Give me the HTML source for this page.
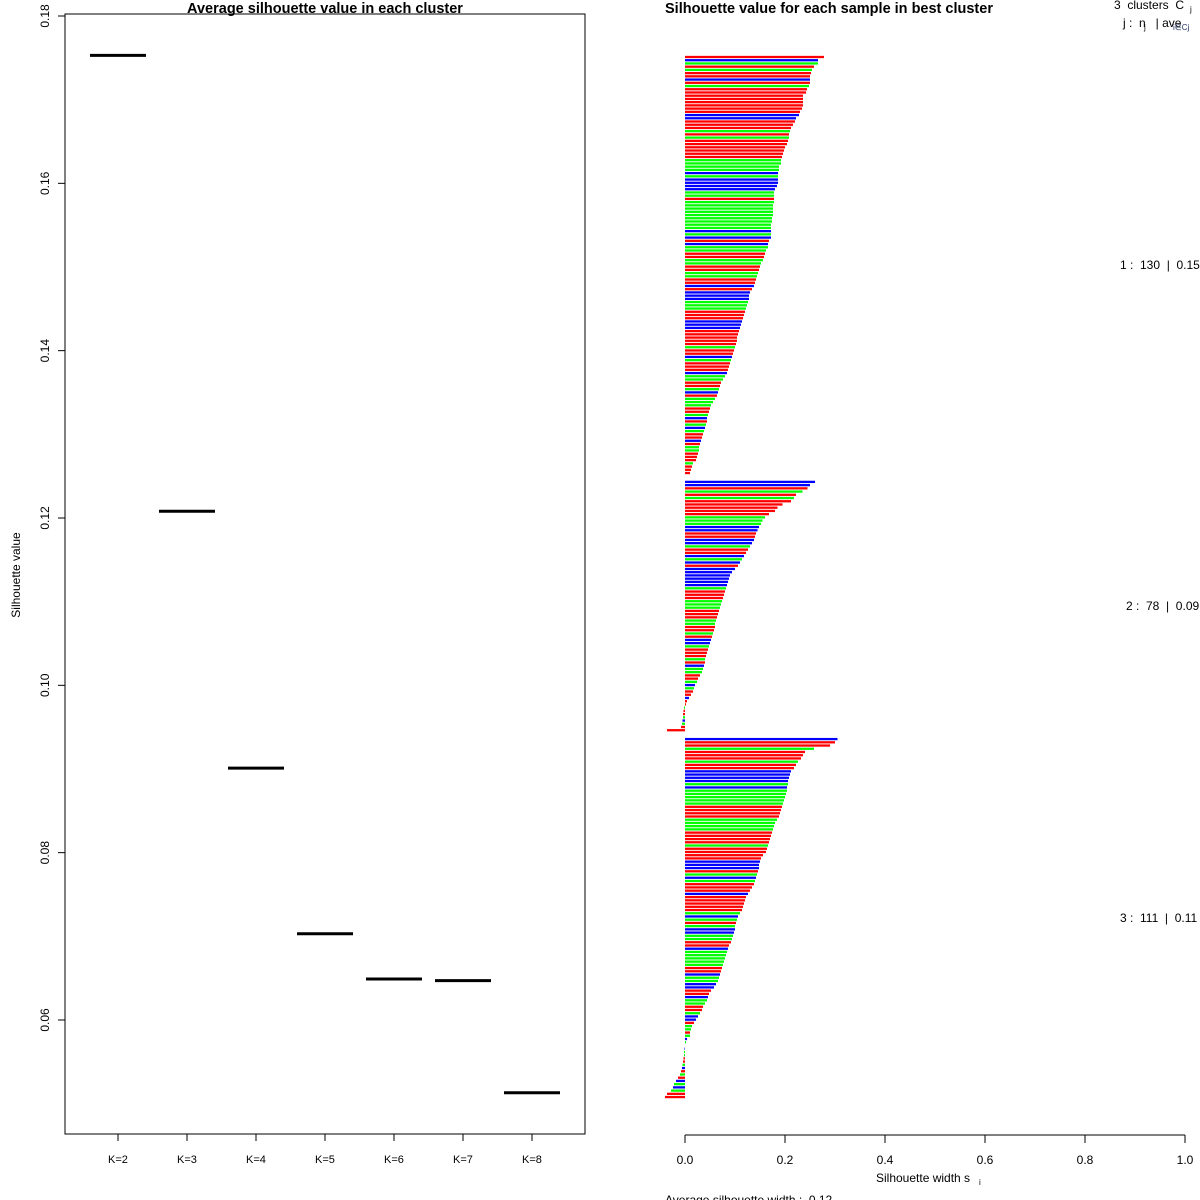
<!DOCTYPE html>
<html><head><meta charset="utf-8">
<style>
html,body{margin:0;padding:0;background:#fff;}
svg{display:block;font-family:"Liberation Sans",sans-serif;}
text{white-space:pre;}
</style></head>
<body>
<svg id="chart" width="1200" height="1200" viewBox="0 0 1200 1200" xmlns="http://www.w3.org/2000/svg">
<rect width="1200" height="1200" fill="#fff"/>
<g id="left"></g>
<g id="right"></g>
</svg>
<script>
// ---- Left chart data ----
const kCategories = ["K=2","K=3","K=4","K=5","K=6","K=7","K=8"];
const kAverages = [0.1753,0.1208,0.0901,0.0703,0.0649,0.0647,0.0513];
const leftYTicks = [0.06,0.08,0.10,0.12,0.14,0.16,0.18];
const leftYTickLabels = ["0.06","0.08","0.10","0.12","0.14","0.16","0.18"];

// ---- Right chart data ----
const clusterIds = [1,2,3];
const clusterSizes = [130,78,111];
const clusterAvgLabels = ["0.15","0.09","0.11"];
const cluster1Values = [0.278,0.266,0.266,0.258,0.254,0.252,0.250,0.250,0.250,0.248,
0.244,0.242,0.236,0.236,0.236,0.236,0.234,0.230,0.228,0.222,
0.220,0.216,0.212,0.210,0.208,0.208,0.206,0.204,0.200,0.198,
0.196,0.194,0.192,0.192,0.188,0.188,0.186,0.186,0.186,0.186,
0.184,0.180,0.178,0.178,0.178,0.178,0.176,0.176,0.176,0.176,
0.174,0.174,0.172,0.172,0.172,0.172,0.172,0.168,0.166,0.166,
0.162,0.160,0.158,0.156,0.152,0.150,0.148,0.146,0.144,0.142,
0.140,0.138,0.134,0.130,0.128,0.128,0.126,0.124,0.122,0.120,
0.118,0.116,0.114,0.112,0.110,0.108,0.106,0.104,0.104,0.102,
0.100,0.098,0.096,0.094,0.092,0.090,0.088,0.086,0.084,0.080,
0.076,0.072,0.070,0.068,0.066,0.064,0.060,0.056,0.052,0.050,
0.048,0.046,0.044,0.044,0.042,0.040,0.038,0.036,0.034,0.032,
0.030,0.028,0.028,0.026,0.024,0.022,0.016,0.014,0.012,0.010];
const cluster2Values = [0.260,0.250,0.245,0.235,0.222,0.218,0.212,0.195,0.185,0.180,
0.168,0.160,0.155,0.152,0.148,0.145,0.142,0.140,0.138,0.134,
0.130,0.126,0.122,0.118,0.114,0.110,0.106,0.100,0.094,0.090,
0.088,0.086,0.084,0.082,0.080,0.078,0.076,0.074,0.072,0.070,
0.068,0.066,0.064,0.062,0.060,0.060,0.058,0.056,0.054,0.052,
0.050,0.048,0.046,0.044,0.042,0.040,0.040,0.038,0.036,0.034,
0.030,0.026,0.024,0.020,0.018,0.016,0.012,0.008,0.004,0.002,
-0.002,-0.003,-0.004,-0.004,-0.005,-0.006,-0.008,-0.036];
const cluster3Values = [0.305,0.300,0.290,0.258,0.240,0.236,0.232,0.226,0.222,0.218,
0.212,0.210,0.208,0.206,0.206,0.204,0.204,0.202,0.200,0.198,
0.196,0.194,0.192,0.190,0.188,0.184,0.180,0.178,0.176,0.174,
0.172,0.170,0.168,0.166,0.164,0.162,0.156,0.152,0.150,0.148,
0.148,0.146,0.144,0.142,0.140,0.138,0.134,0.130,0.126,0.122,
0.120,0.118,0.116,0.114,0.110,0.106,0.104,0.102,0.100,0.100,
0.098,0.096,0.094,0.092,0.088,0.086,0.084,0.082,0.080,0.078,
0.076,0.074,0.072,0.070,0.068,0.066,0.062,0.058,0.052,0.048,
0.046,0.044,0.040,0.036,0.034,0.030,0.026,0.022,0.018,0.014,
0.012,0.010,0.010,0.004,0.002,0.000,-0.001,-0.002,-0.002,-0.003,-0.004,
-0.005,-0.006,-0.008,-0.010,-0.014,-0.018,-0.022,-0.024,-0.028,-0.036,-0.040];
const cluster1Colors = "rbgrgrrbrgrrrrrrrrbbrrrgrgrrrrrrggggbgbbbbggrgggggggggbgbrbggrrggrrggrrbrbbbgggrrrbbbrrrrrgrrbgrrrbggrrgbrgggrrgbrgbgrrbrggrrrgrr";
const cluster2Colors = "bbrgrgrrrrrgggbbrrbbgrrbgbrbbbbbbgrrrgggrrrggrrgrbbgrrrgrbggrrgbgrrbrrgrrgbgrr";
const cluster3Colors = "brrgrrrgrrbbbbgbgggggrrrrggggrrrrgrrrrbbbrgbgrrrbrrrrrgbgrgbbggrrbgggggrrbggbbrrbggrrgbbrggrgbgbbggrrgbrgrbgbgrr";
const xTicks = [0,0.2,0.4,0.6,0.8,1.0];
const xTickLabels = ["0.0","0.2","0.4","0.6","0.8","1.0"];

const NS = "http://www.w3.org/2000/svg";
function mk(parent, tag, attrs, text){
  const e = document.createElementNS(NS, tag);
  for (const k in attrs) e.setAttribute(k, attrs[k]);
  if (text !== undefined) e.textContent = text;
  parent.appendChild(e);
  return e;
}
const colorMap = {r:"#ff0000", g:"#00ff00", b:"#0000ff"};

// ---- Left panel ----
const L = document.getElementById("left");
const yL = v => 16 + (0.18 - v) / 0.02 * 167.33;
const xL = i => 118 + i * 69;
let el = mk(L, "rect", {x:65, y:14, width:520, height:1120, fill:"none", stroke:"#000", "stroke-width":1});


el = mk(L, "text", {x:325, y:13, "text-anchor":"middle", "font-size":14.5, "font-weight":"bold"}, "Average silhouette value in each cluster");


el = mk(L, "text", {x:0, y:0, transform:"translate(20,575) rotate(-90)", "text-anchor":"middle", "font-size":12}, "Silhouette value");


leftYTicks.forEach((t, i) => {
  const y = yL(t);
  let tk = mk(L, "line", {x1:58, x2:65, y1:y, y2:y, stroke:"#000"});
  
  
  let lb = mk(L, "text", {x:0, y:0, transform:`translate(49,${y}) rotate(-90)`, "text-anchor":"middle", "font-size":12}, leftYTickLabels[i]);
  
  
});
kCategories.forEach((c, i) => {
  const x = xL(i);
  let tk = mk(L, "line", {x1:x, x2:x, y1:1134, y2:1141, stroke:"#000"});
  
  
  let lb = mk(L, "text", {x:x, y:1163, "text-anchor":"middle", "font-size":11}, c);
  
  
  let seg = mk(L, "line", {x1:x-28, x2:x+28, y1:yL(kAverages[i]), y2:yL(kAverages[i]), stroke:"#000", "stroke-width":3});
  
  
});

// ---- Right panel ----
const R = document.getElementById("right");
const xR = v => 685 + v * 500;
const pitch = 3.225;
const yR = slot => 57 + slot * pitch;
el = mk(R, "text", {x:665, y:13, "font-size":14.5, "font-weight":"bold"}, "Silhouette value for each sample in best cluster");


el = mk(R, "text", {x:1114, y:9, "font-size":12}, "3  clusters  C");


mk(R, "text", {x:1190, y:12, "font-size":8}, "j");
el = mk(R, "text", {x:1123, y:27, "font-size":12}, "j :  n   | ave      s");


mk(R, "text", {x:1144, y:30, "font-size":8}, "j");
mk(R, "text", {x:1173, y:30, "font-size":8, fill:"#203060"}, "i∈Cj");

const allVals = [cluster1Values, cluster2Values, cluster3Values];
const allCols = [cluster1Colors, cluster2Colors, cluster3Colors];
const gapSlots = 1.75;
let slot = 0;
allVals.forEach((vals, ci) => {
  const start = slot;
  vals.forEach((v, i) => {
    const y = yR(slot);
    const col = colorMap[allCols[ci][i % allCols[ci].length]];
    const b = mk(R, "rect", {x:Math.min(xR(0), xR(v)), y:y-1.15, width:Math.abs(xR(v)-xR(0)), height:2.3, fill:col});
    
    
    slot += 1;
  });
  const mid = yR((start + slot - 1) / 2);
  const lb = mk(R, "text", {x:ci===1?1126:1120, y:mid+4, "font-size":12},
    clusterIds[ci] + " :  " + clusterSizes[ci] + "  |  " + clusterAvgLabels[ci]);
  
  
  slot += gapSlots;
});

el = mk(R, "line", {x1:xR(0), x2:xR(1), y1:1135, y2:1135, stroke:"#000"});


xTicks.forEach((t, i) => {
  const x = xR(t);
  let tk = mk(R, "line", {x1:x, x2:x, y1:1135, y2:1143, stroke:"#000"});
  
  
  let lb = mk(R, "text", {x:x, y:1164, "text-anchor":"middle", "font-size":12}, xTickLabels[i]);
  
  
});
el = mk(R, "text", {x:876, y:1182, "font-size":12}, "Silhouette width s");


mk(R, "text", {x:979, y:1185, "font-size":8}, "i");
el = mk(R, "text", {x:665, y:1204, "font-size":12}, "Average silhouette width :  0.12");


</script>
</body></html>
